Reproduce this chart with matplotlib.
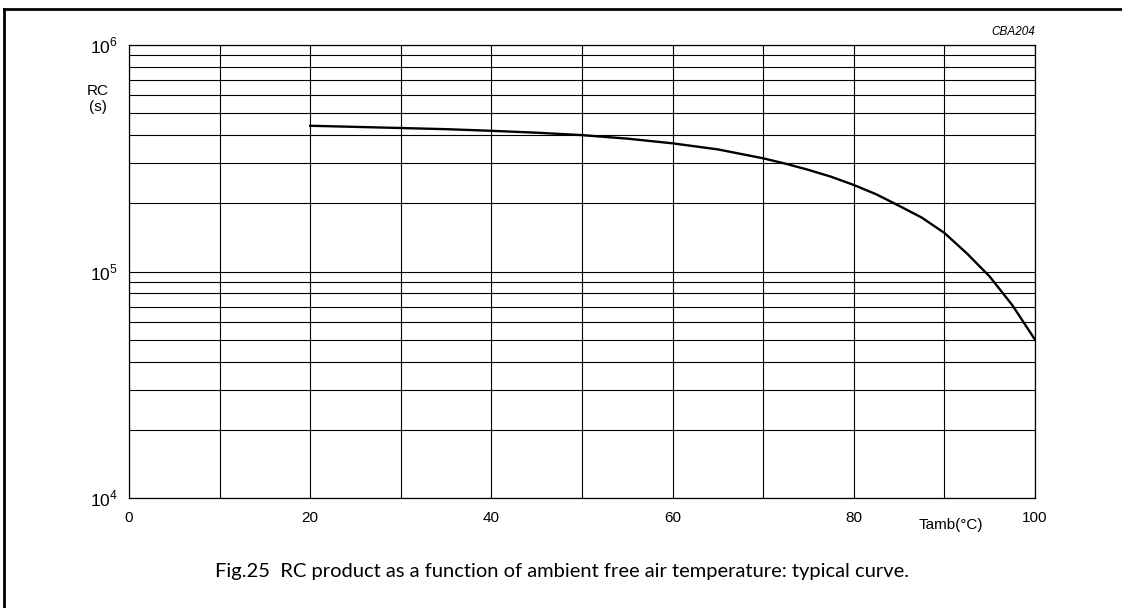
import matplotlib.pyplot as plt
from matplotlib.lines import Line2D
from matplotlib.ticker import FixedLocator, NullFormatter

# curve (Tamb in degC, RC in s)
temp = [20, 25, 30, 35, 40, 45, 50, 55, 60, 65, 70, 72.5, 75, 77.5, 80,
        82.5, 85, 87.5, 90, 92.5, 95, 97.5, 100]
rc = [4.40e5, 4.35e5, 4.30e5, 4.25e5, 4.18e5, 4.10e5, 4.00e5, 3.86e5, 3.68e5,
      3.46e5, 3.16e5, 2.99e5, 2.81e5, 2.62e5, 2.41e5, 2.19e5, 1.95e5, 1.73e5,
      1.48e5, 1.20e5, 9.5e4, 7.1e4, 5.0e4]

x_ticks = [0, 20, 40, 60, 80, 100]
y_ticks = [1e4, 1e5, 1e6]
y_labels = ['$10^4$', '$10^5$', '$10^6$']

plt.rcParams['font.family'] = ['Liberation Sans', 'DejaVu Sans']
plt.rcParams['mathtext.fontset'] = 'custom'
plt.rcParams['mathtext.rm'] = 'Liberation Sans'

W, H = 1122, 608
fig = plt.figure(figsize=(W / 100, H / 100), dpi=100)
ax = fig.add_axes([129 / W, 1 - 498 / H, (1035 - 129) / W, (498 - 45) / H])

ax.set_yscale('log')
ax.set_xlim(0, 100)
ax.set_ylim(1e4, 1e6)

ax.set_xticks(x_ticks)
ax.set_xticklabels([str(t) for t in x_ticks], fontsize=11)
ax.xaxis.set_minor_locator(FixedLocator(range(10, 100, 10)))
ax.set_yticks(y_ticks)
ax.set_yticklabels(y_labels, fontsize=12.5)
minors = [m * 10 ** e for e in (4, 5) for m in range(2, 10)]
ax.yaxis.set_minor_locator(FixedLocator(minors))
ax.yaxis.set_minor_formatter(NullFormatter())
ax.tick_params(which='both', length=0)
ax.tick_params(axis='x', pad=9)
ax.tick_params(axis='y', pad=8)

ax.grid(True, which='both', color='black', linewidth=0.8)
for s in ax.spines.values():
    s.set_linewidth(0.9)

ax.plot(temp, rc, color='black', linewidth=1.7, solid_joinstyle='round')

fig.text(98 / W, 1 - 99 / H, 'RC\n(s)', fontsize=11, ha='center', va='center',
         linespacing=1.1)
fig.text(951 / W, 1 - 525 / H, 'Tamb(°C)', fontsize=11, ha='center', va='center')
fig.text(1035 / W, 1 - 32 / H, 'CBA204', fontsize=8.5, style='italic',
         ha='right', va='center')
fig.text(562 / W, 1 - 572 / H,
         'Fig.25  RC product as a function of ambient free air temperature: typical curve.',
         fontsize=14.5, family=['Lato', 'DejaVu Sans'], ha='center', va='center')

# page frame: only top and left edges are visible in the crop
fig.add_artist(Line2D([4 / W, 1], [1 - 9 / H, 1 - 9 / H], transform=fig.transFigure,
                      color='black', linewidth=2))
fig.add_artist(Line2D([4 / W, 4 / W], [0, 1 - 9 / H], transform=fig.transFigure,
                      color='black', linewidth=2))

fig.savefig('out.png', dpi=100)
